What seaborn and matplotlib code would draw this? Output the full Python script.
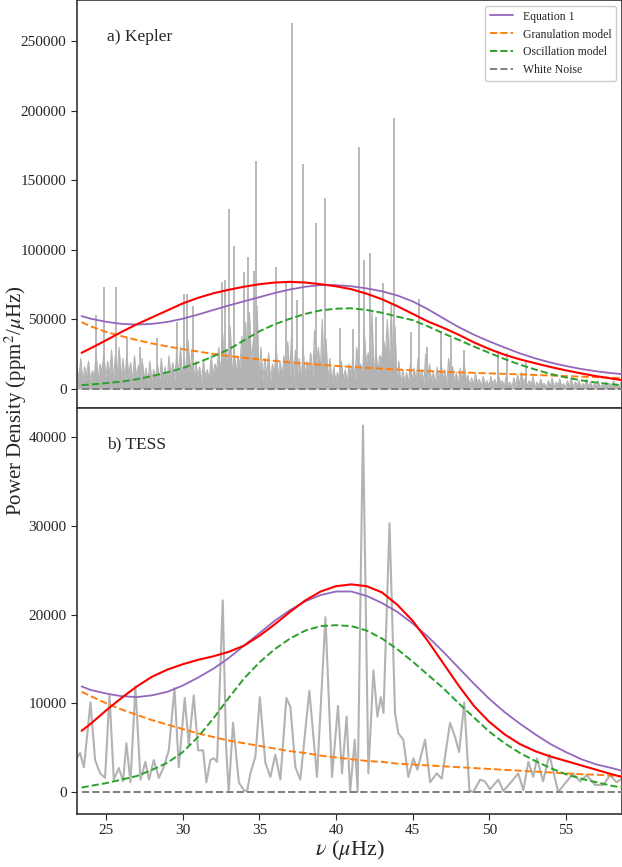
import matplotlib
matplotlib.use("Agg")
import matplotlib.pyplot as plt
import seaborn as sns
import pandas as pd

sns.set_style("ticks")
plt.rcParams["font.family"] = ["Liberation Serif", "DejaVu Serif"]
plt.rcParams["mathtext.fontset"] = "stix"

# ---------------- model frequency grid (muHz) ----------------
f_model = [23.4, 24, 25, 26, 27, 28, 29, 30, 31, 32, 33, 34, 35, 36, 37, 38, 39, 40,
           41, 42, 43, 44, 45, 46, 47, 48, 49, 50, 51, 52, 53, 54, 55, 56, 57, 58, 58.65]

# ---------------- Kepler models (ppm^2/muHz, in thousands) ----------------
kep_eq1 = [52.4, 50.5, 48.3, 46.8, 46.3, 46.8, 48.2, 50.5, 53.5, 56.8, 60, 63, 66, 69, 71.5,
           73.5, 74.7, 74.6, 73.8, 72.3, 70.2, 67.2, 63, 57.3, 50.8, 44.5, 39, 34.2, 29.8, 25.6,
           22, 19, 16.5, 14.4, 12.7, 11.4, 10.7]
kep_red = [26, 29.3, 35, 41, 46.5, 51.5, 56.5, 61.5, 65.5, 68.8, 71.3, 73.5, 75.3, 76.5, 77,
           76.5, 75.3, 73.8, 71.7, 68.5, 64.5, 59.5, 54, 48.5, 44, 39, 33.5, 28.7, 24.6, 21.3,
           18.5, 15.8, 13.4, 11.2, 9.2, 7.5, 6.4]
kep_osc = [2.8, 3.3, 4.2, 5.3, 7.0, 9.3, 12.0, 15.0, 19.0, 23.5, 28.5, 35, 41.5, 46.5, 50.5,
           54, 56.5, 57.7, 58, 56.8, 54.8, 52, 49.5, 45, 40, 35.3, 30.5, 26, 21.5, 17.5, 14,
           10.8, 8.3, 6.2, 4.6, 3.4, 2.8]
kep_gran = [48, 45, 41, 38, 35.2, 32.7, 30.6, 28.7, 26.9, 25.2, 23.7, 22.4, 21.3, 20.2, 19.2,
            18.3, 17.4, 16.6, 15.9, 15.2, 14.6, 14.0, 13.4, 12.9, 12.4, 12.0, 11.6, 11.2, 10.9,
            10.5, 10.1, 9.7, 9.3, 8.9, 8.5, 8.1, 7.9]
kep_white = [0.25] * len(f_model)

# ---------------- TESS models (thousands) ----------------
tess_eq1 = [11.9, 11.5, 11.1, 10.8, 10.7, 10.9, 11.3, 12.0, 12.9, 13.9, 15.1, 16.5, 17.9, 19.3,
            20.5, 21.5, 22.2, 22.6, 22.6, 22.1, 21.3, 20.3, 19.0, 17.5, 15.8, 14.0, 12.2, 10.5,
            9.0, 7.7, 6.5, 5.4, 4.5, 3.7, 3.1, 2.7, 2.4]
tess_red = [6.9, 7.7, 9.2, 10.6, 11.9, 13.0, 13.8, 14.4, 14.9, 15.3, 15.8, 16.5, 17.6, 18.9,
            20.3, 21.6, 22.6, 23.2, 23.4, 23.2, 22.5, 21.1, 19.3, 17.0, 14.5, 12.0, 9.7, 7.9,
            6.5, 5.4, 4.6, 4.0, 3.5, 3.0, 2.5, 2.0, 1.7]
tess_osc = [0.5, 0.7, 1.0, 1.4, 1.8, 2.5, 3.3, 4.5, 6.2, 8.3, 10.6, 12.8, 14.6, 16.1, 17.3,
            18.2, 18.7, 18.8, 18.7, 18.2, 17.3, 16.1, 14.7, 13.2, 11.7, 10.0, 8.4, 6.8, 5.5,
            4.4, 3.5, 2.7, 2.0, 1.5, 1.1, 0.7, 0.5]
tess_gran = [11.3, 10.8, 10.0, 9.3, 8.7, 8.1, 7.6, 7.1, 6.6, 6.2, 5.8, 5.5, 5.2, 4.9, 4.6, 4.4,
             4.1, 3.9, 3.7, 3.5, 3.4, 3.2, 3.1, 3.0, 2.9, 2.8, 2.7, 2.6, 2.5, 2.4, 2.3, 2.2,
             2.1, 2.0, 1.95, 1.85, 1.8]
tess_white = [0.02] * len(f_model)

# ---------------- Kepler power spectrum ----------------
# local maxima of the noise floor (every 0.25 muHz from 23.10)
kep_hi_f = [round(23.10 + 0.25 * i, 3) for i in range(143)]
kep_hi_p = [14, 22, 16, 20, 13, 25, 18, 26, 20, 28, 24, 30, 22, 26, 19, 24, 17, 22, 15, 20,
            14, 18, 22, 16, 24, 19, 26, 30, 22, 35, 28, 20, 16, 21, 14, 24, 18, 30, 40, 28,
            45, 30, 24, 38, 48, 55, 35, 60, 30, 22, 26, 18, 30, 20, 24, 34, 40, 28, 22, 30,
            20, 26, 42, 30, 50, 36, 22, 16, 12, 20, 14, 18, 22, 30, 18, 40, 26, 55, 30, 24,
            35, 50, 62, 45, 20, 14, 12, 18, 15, 22, 14, 25, 18, 12, 16, 20, 14, 22, 16, 12,
            15, 20, 10, 8, 11, 7, 9, 6, 9, 7, 10, 6, 9, 5, 8, 10, 12, 8, 6, 9, 5, 7, 4, 6,
            8, 5, 7, 4, 6, 8, 5, 6, 4, 7, 5, 4, 6, 3, 5, 4, 6, 3, 5]
# local minima in between (every 0.25 muHz from 23.225)
kep_lo_f = [round(23.225 + 0.25 * i, 3) for i in range(142)]
kep_lo_p = [8, 5, 10, 6, 9, 7, 12, 8, 10, 6, 11, 7,
            6, 9, 5, 8, 4, 7, 5, 6, 8, 5, 7, 4, 9, 6, 10, 7,
            8, 12, 6, 9, 5, 8, 6, 10, 14, 8, 12, 9, 7, 11, 16, 20, 10, 18, 9, 7,
            6, 9, 5, 11, 7, 8, 13, 10, 6, 9, 5, 10, 14, 9, 18, 12, 7, 5, 4, 6,
            5, 7, 4, 9, 6, 14, 8, 18, 10, 7, 12, 20, 25, 14, 6, 4, 3, 5, 4, 6,
            4, 7, 3, 6, 5, 3, 4, 6, 3, 7, 5, 3, 4, 6, 2, 3, 4, 2, 3, 2,
            3, 2, 4, 2, 3, 1, 2, 3, 4, 2, 3, 1, 2, 3, 1, 2, 1, 3, 2, 1, 2, 1, 3, 1,
            2, 1, 1, 2, 1, 2, 1, 1, 2, 1]
kep_spike_f = [24.35, 24.87, 25.65, 26.37, 27.20, 28.33, 29.63, 30.07, 30.28, 30.68, 32.57,
               32.76, 33.04, 33.33, 34.02, 34.28, 34.63, 34.80, 36.09, 36.76, 37.13, 37.46,
               37.83, 38.70, 39.29, 40.26, 41.09, 41.48, 41.83, 42.22, 42.61, 43.09, 43.81,
               44.88, 45.44, 45.96, 46.83, 47.50, 48.35, 50.59, 51.14, 52.40]
kep_spike_p = [53, 73, 73, 37, 30, 37, 48, 68, 68, 60, 77, 78, 129, 103, 84, 95, 85, 164, 88,
               76, 263, 64, 162, 119, 137, 44, 43, 174, 93, 98, 52, 76, 195, 41, 65, 30, 42,
               37, 28, 27, 26, 21]

# ---------------- TESS power spectrum (smoothed) ----------------
tess_f = [23.11, 23.30, 23.55, 23.98, 24.28, 24.61, 24.93, 25.22, 25.50, 25.83, 26.11, 26.32,
          26.59, 26.91, 27.24, 27.56, 27.80, 28.11, 28.44, 28.76, 29.09, 29.46, 29.74, 30.13,
          30.39, 30.72, 31.00, 31.33, 31.54, 31.80, 32.03, 32.24, 32.61, 32.83, 33.00, 33.28,
          33.66, 33.98, 34.20, 34.41, 34.74, 35.03, 35.39, 35.72, 36.04, 36.37, 36.76, 37.02,
          37.35, 37.67, 38.26, 38.76, 39.31, 39.74, 40.13, 40.39, 40.69, 40.92, 41.22, 41.41,
          41.76, 42.11, 42.44, 42.70, 42.92, 43.10, 43.49, 43.85, 44.07, 44.39, 44.72, 45.05,
          45.31, 45.81, 46.14, 46.57, 46.90, 47.44, 47.77, 48.03, 48.37, 48.70, 48.96, 49.40,
          49.72, 50.05, 50.59, 50.92, 51.46, 51.89, 52.22, 52.55, 52.87, 53.11, 53.51, 53.92,
          54.50, 55.05, 55.48, 55.92, 56.36, 56.90, 57.44, 57.88, 58.31, 58.66]
tess_p = [3.9, 4.4, 2.8, 10.1, 3.6, 2.1, 1.6, 10.9, 1.4, 2.7, 1.2, 5.5,
          1.1, 11.9, 1.4, 3.4, 1.4, 3.6, 1.6, 2.8, 4.7, 11.7, 2.8, 10.6,
          5.3, 10.9, 4.7, 4.7, 1.1, 3.6, 3.8, 3.4, 21.6, 5.0, 0.0, 7.8,
          1.1, 0.2, 0.1, 2.1, 4.0, 10.7, 3.3, 1.7, 4.2, 1.4, 10.6, 9.6,
          2.8, 1.4, 11.4, 1.7, 19.7, 1.7, 9.7, 2.1, 8.5, 0.0, 5.9, 0.0,
          41.3, 2.1, 13.7, 8.5, 10.7, 8.9, 30.3, 8.9, 6.6, 5.9, 1.7, 3.8,
          2.5, 5.9, 1.1, 2.1, 1.5, 7.8, 6.2, 4.5, 10.1, 0.2, 0.0, 1.4,
          1.2, 0.3, 1.4, 0.1, 1.2, 2.1, 0.2, 3.4, 1.7, 3.8, 1.2, 4.2,
          0.0, 1.2, 2.1, 1.2, 1.9, 0.8, 0.8, 1.9, 1.1, 1.5]

xticks = [25, 30, 35, 40, 45, 50, 55]
yticks_top = [0, 50000, 100000, 150000, 200000, 250000]
yticks_bot = [0, 10000, 20000, 30000, 40000]

K = 1000.0
GRAY = "#b3b3b3"

fig = plt.figure(figsize=(6.22, 8.67), dpi=100)
ax1 = fig.add_axes([0.1238, 0.5294, 0.8762, 0.4706])
ax2 = fig.add_axes([0.1238, 0.0611, 0.8762, 0.4683], sharex=ax1)


def draw_models(ax, eq1, gran, osc, white, red, with_labels):
    df = pd.DataFrame({"f": f_model,
                       "eq1": [v * K for v in eq1], "gran": [v * K for v in gran],
                       "osc": [v * K for v in osc], "white": [v * K for v in white],
                       "red": [v * K for v in red]})
    lab = (lambda s: s) if with_labels else (lambda s: None)
    sns.lineplot(data=df, x="f", y="eq1", ax=ax, color="tab:purple", lw=1.3,
                 label=lab("Equation 1"), zorder=3)
    sns.lineplot(data=df, x="f", y="gran", ax=ax, color="tab:orange", lw=1.4,
                 linestyle="--", label=lab("Granulation model"), zorder=3)
    sns.lineplot(data=df, x="f", y="osc", ax=ax, color="tab:green", lw=1.4,
                 linestyle="--", label=lab("Oscillation model"), zorder=3)
    sns.lineplot(data=df, x="f", y="white", ax=ax, color="tab:gray", lw=1.4,
                 linestyle="--", label=lab("White Noise"), zorder=3)
    sns.lineplot(data=df, x="f", y="red", ax=ax, color="red", lw=1.5, zorder=4)


# ---- Kepler panel ----
kdf = pd.DataFrame({"f": kep_hi_f + kep_lo_f,
                    "p": [v * K for v in kep_hi_p + kep_lo_p]}).sort_values("f")
ax1.fill_between(kdf["f"], 0, kdf["p"], color=GRAY, lw=0, zorder=1)
sns.lineplot(data=kdf, x="f", y="p", ax=ax1, color=GRAY, lw=0.8, zorder=1, sort=False)
ax1.vlines(kep_spike_f, 0, [v * K for v in kep_spike_p], color=GRAY, lw=1.3, zorder=1)
draw_models(ax1, kep_eq1, kep_gran, kep_osc, kep_white, kep_red, True)
ax1.set_ylim(-13650, 279500)
ax1.set_yticks(yticks_top)
ax1.legend(loc="upper right", fontsize=8.5, framealpha=1.0)
ax1.text(0.055, 0.91, "a) Kepler", transform=ax1.transAxes, fontsize=12.5, va="center")
ax1.tick_params(axis="x", length=0, labelbottom=False)

# ---- TESS panel ----
tdf = pd.DataFrame({"f": tess_f, "p": [v * K for v in tess_p]})
sns.lineplot(data=tdf, x="f", y="p", ax=ax2, color=GRAY, lw=1.5, zorder=1)
draw_models(ax2, tess_eq1, tess_gran, tess_osc, tess_white, tess_red, False)
ax2.set_ylim(-2480, 43280)
ax2.set_yticks(yticks_bot)
ax2.text(0.055, 0.91, "b) TESS", transform=ax2.transAxes, fontsize=12.5, va="center")

ax2.set_xlim(23.1, 58.66)
ax2.set_xticks(xticks)

for ax in (ax1, ax2):
    ax.set_xlabel("")
    ax.set_ylabel("")
    ax.tick_params(axis="y", labelsize=11, length=4, direction="out")
    for s in ax.spines.values():
        s.set_color("#333333")
        s.set_linewidth(1.2)
ax2.tick_params(axis="x", labelsize=11, length=4, direction="out")

fig.text(0.026, 0.538, r"Power Density (ppm$^2$/$\mu$Hz)", rotation=90,
         ha="center", va="center", fontsize=15)
fig.text(0.562, 0.0196, r"$\nu$ ($\mu$Hz)", ha="center", va="center", fontsize=16)

fig.savefig("out.png", dpi=100)
